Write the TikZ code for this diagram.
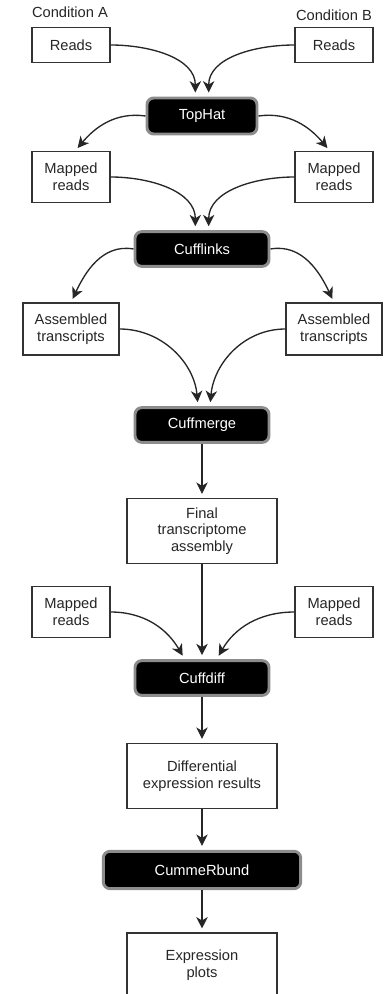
\documentclass[tikz,border=0pt]{standalone}
\usepackage{fontspec}
\setmainfont{Liberation Sans}
\usetikzlibrary{arrows.meta}

\begin{document}
\begin{tikzpicture}[x=0.75pt,y=0.75pt,yscale=-1,xscale=1,
  font=\fontsize{11}{12.5}\selectfont,
  box/.style={draw=black!80,line width=0.8pt,fill=white,align=center,inner sep=0pt,text=black!85},
  tool/.style={draw=black!45,line width=2.2pt,fill=black,rounded corners=5pt,align=center,inner sep=0pt,text=white},
  flow/.style={-{Stealth[length=8.5pt,width=8.5pt,inset=2.5pt]},line width=1pt,black!85,shorten >=3pt}]

\clip (0,0) rectangle (386,994);

% inputs
\node [text=black!85] (condA) at (70,12) {Condition A};
\node [text=black!85] (condB) at (334,15) {Condition B};
\node [box,minimum width=58.5pt,minimum height=26pt] (readsA) at (71,45) {Reads};
\node [box,minimum width=58.5pt,minimum height=26pt] (readsB) at (334,45) {Reads};

% mapping
\node [tool,minimum width=82.5pt,minimum height=27pt] (tophat) at (202,116) {TopHat};
\node [box,minimum width=58.5pt,minimum height=38pt] (mappedA) at (71,177) {Mapped\\reads};
\node [box,minimum width=58.5pt,minimum height=38pt] (mappedB) at (334,177) {Mapped\\reads};

% assembly
\node [tool,minimum width=100.5pt,minimum height=26pt] (cufflinks) at (202,249) {Cufflinks};
\node [box,minimum width=72pt,minimum height=39pt] (asmA) at (71,329) {Assembled\\transcripts};
\node [box,minimum width=72pt,minimum height=39pt] (asmB) at (334,329) {Assembled\\transcripts};
\node [tool,minimum width=100.5pt,minimum height=26pt] (cuffmerge) at (202,425) {Cuffmerge};
\node [box,minimum width=112.5pt,minimum height=49pt] (final) at (202,531) {Final\\transcriptome\\assembly};

% differential expression
\node [box,minimum width=58.5pt,minimum height=38pt] (mapA) at (71,612) {Mapped\\reads};
\node [box,minimum width=58.5pt,minimum height=38pt] (mapB) at (334,612) {Mapped\\reads};
\node [tool,minimum width=100.5pt,minimum height=26pt] (cuffdiff) at (202,678) {Cuffdiff};
\node [box,minimum width=112.5pt,minimum height=49pt] (diffexp) at (202,776) {Differential\\expression results};
\node [tool,minimum width=148pt,minimum height=28pt] (cummerbund) at (202,870) {CummeRbund};
\node [box,minimum width=112.5pt,minimum height=48pt] (plots) at (202,965) {Expression\\plots};

% connectors (yscale=-1, so angles are mirrored)
\draw [flow] (readsA.east) to[out=0,in=-90] ([xshift=-5pt]tophat.north);
\draw [flow] (readsB.west) to[out=180,in=-90] ([xshift=5pt]tophat.north);
\draw [flow] (tophat.west) to[out=-172,in=-50] ([xshift=3pt]mappedA.north);
\draw [flow] (tophat.east) to[out=-8,in=-130] ([xshift=-3pt]mappedB.north);

\draw [flow] (mappedA.east) to[out=0,in=-90] ([xshift=-5pt]cufflinks.north);
\draw [flow] (mappedB.west) to[out=180,in=-90] ([xshift=5pt]cufflinks.north);
\draw [flow] (cufflinks.west) to[out=-170,in=-65] (asmA.north);
\draw [flow] (cufflinks.east) to[out=-10,in=-115] (asmB.north);

\draw [flow] (asmA.east) to[out=0,in=-95] ([xshift=-3pt]cuffmerge.north);
\draw [flow] (asmB.west) to[out=180,in=-85] ([xshift=6pt]cuffmerge.north);
\draw [flow] (cuffmerge.south) -- (final.north);

\draw [flow] (final.south) -- (cuffdiff.north);
\draw [flow] (mapA.east) to[out=0,in=-120] ([xshift=-13pt]cuffdiff.north);
\draw [flow] (mapB.west) to[out=180,in=-60] ([xshift=11pt]cuffdiff.north);
\draw [flow] (cuffdiff.south) -- (diffexp.north);
\draw [flow] (diffexp.south) -- (cummerbund.north);
\draw [flow] (cummerbund.south) -- (plots.north);

\end{tikzpicture}
\end{document}
